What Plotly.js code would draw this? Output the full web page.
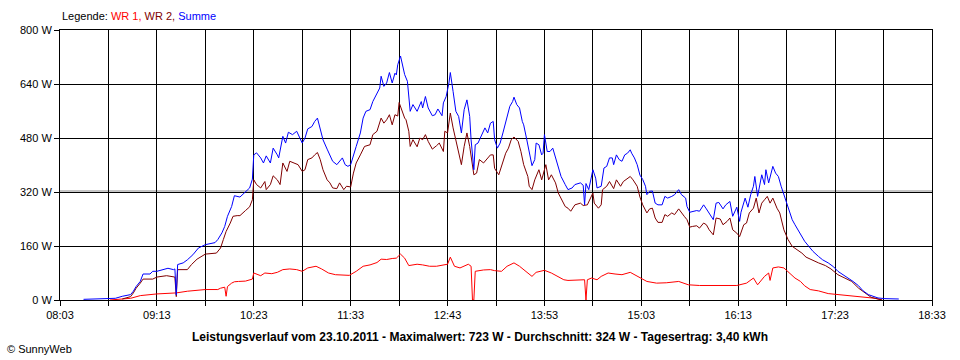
<!DOCTYPE html>
<html><head><meta charset="utf-8">
<script src="https://cdn.plot.ly/plotly-3.0.1.min.js"></script>
<style>html,body{margin:0;padding:0;background:#fff}#chart{width:960px;height:360px}</style>
</head><body><div id="chart"></div>
<script>
// ---- data ----
const xTickLabels = ["08:03","09:13","10:23","11:33","12:43","13:53","15:03","16:13","17:23","18:33"];
const yTickValues = [0,160,320,480,640,800];

const wr1Time = ["08:39","08:54","09:01","09:13","09:27","09:35","09:48","09:57","09:59","10:02","10:03","10:04","10:07","10:09","10:12","10:17","10:22","10:23","10:28","10:31","10:36","10:40","10:44","10:49","10:54","10:58","11:02","11:08","11:12","11:17","11:22","11:26","11:32","11:37","11:42","11:47","11:52","11:55","11:59","12:03","12:06","12:09","12:12","12:15","12:21","12:25","12:30","12:35","12:40","12:43","12:45","12:48","12:52","12:56","12:58","13:00","13:01","13:02","13:03","13:09","13:14","13:17","13:22","13:26","13:31","13:35","13:40","13:44","13:47","13:53","13:58","14:03","14:07","14:10","14:17","14:22","14:23","14:24","14:27","14:31","14:34","14:39","14:44","14:49","14:55","14:58","15:02","15:07","15:14","15:21","15:30","15:37","15:45","15:53","16:00","16:07","16:12","16:19","16:24","16:27","16:29","16:32","16:35","16:36","16:38","16:42","16:46","16:50","16:54","16:58","17:01","17:05","17:11","17:18","17:25","17:35","17:44","17:52","17:57"];
const wr1Vals = [0,5,13,18,21,26,31,31,35,38,11,40,50,54,55,56,62,80,72,80,78,82,90,92,90,85,95,100,92,80,75,75,73,85,100,104,111,121,120,123,124,136,124,102,106,104,100,100,104,106,127,100,95,104,106,100,0,0,85,89,90,87,85,100,110,100,82,70,82,88,80,70,60,58,60,60,0,60,65,60,70,80,77,75,82,75,65,55,50,51,55,45,43,43,45,45,43,50,65,45,55,70,80,58,95,98,95,80,65,55,42,31,27,19,16,13,10,5,0];

const wr2Time = ["08:48","08:54","08:56","08:58","09:01","09:03","09:10","09:13","09:20","09:26","09:27","09:28","09:35","09:38","09:42","09:48","09:56","09:59","10:01","10:03","10:06","10:08","10:11","10:13","10:17","10:20","10:22","10:23","10:25","10:28","10:31","10:32","10:35","10:37","10:40","10:42","10:44","10:47","10:49","10:52","10:55","10:58","11:00","11:02","11:05","11:07","11:09","11:11","11:13","11:16","11:18","11:20","11:23","11:25","11:28","11:30","11:33","11:35","11:37","11:40","11:43","11:47","11:49","11:52","11:55","11:57","11:59","12:01","12:03","12:05","12:07","12:08","12:10","12:12","12:13","12:15","12:16","12:18","12:21","12:23","12:25","12:27","12:29","12:32","12:35","12:37","12:40","12:41","12:43","12:45","12:47","12:49","12:51","12:53","12:55","12:57","12:59","13:00","13:02","13:04","13:06","13:09","13:11","13:14","13:16","13:17","13:20","13:22","13:25","13:27","13:29","13:31","13:34","13:36","13:38","13:41","13:42","13:44","13:46","13:49","13:51","13:54","13:56","13:58","14:01","14:03","14:05","14:08","14:10","14:12","14:15","14:19","14:21","14:24","14:28","14:29","14:32","14:34","14:35","14:38","14:40","14:43","14:45","14:48","14:50","14:52","14:55","14:57","15:00","15:02","15:04","15:07","15:09","15:11","15:13","15:15","15:18","15:20","15:22","15:25","15:27","15:30","15:32","15:34","15:36","15:38","15:40","15:43","15:45","15:48","15:50","15:52","15:55","15:57","16:00","16:02","16:05","16:07","16:09","16:12","16:14","16:17","16:19","16:21","16:24","16:26","16:28","16:30","16:32","16:34","16:36","16:38","16:41","16:43","16:46","16:49","16:52","16:55","16:59","17:02","17:06","17:11","17:16","17:20","17:25","17:30","17:35","17:40","17:45","17:49","17:54","17:57"];
const wr2Vals = [3,10,21,35,50,62,62,68,72,68,10,90,90,105,121,136,139,154,179,203,228,248,250,250,265,276,297,356,342,332,351,327,342,368,356,342,406,381,411,406,401,381,386,416,421,430,437,416,386,356,347,332,330,347,327,337,335,376,406,430,455,460,490,500,539,524,534,549,519,549,545,585,559,539,534,500,455,475,454,480,475,490,470,447,457,465,440,500,495,554,510,475,435,401,455,495,455,425,371,376,416,406,416,430,430,390,371,396,435,450,475,483,470,440,401,366,337,327,356,386,356,401,356,371,347,317,302,277,272,263,282,287,280,282,317,287,272,282,327,337,351,330,356,337,351,356,366,356,337,305,282,258,270,272,243,230,230,253,248,258,253,270,258,248,238,216,218,220,213,228,223,208,193,243,240,223,233,243,208,198,188,223,228,258,272,302,258,287,297,307,287,302,272,258,208,179,159,151,139,127,119,110,102,92,75,65,55,35,19,8,3,0];

const sumTime = ["08:20","08:32","08:43","08:48","08:54","08:56","08:58","09:01","09:03","09:08","09:10","09:13","09:17","09:21","09:25","09:26","09:27","09:28","09:32","09:35","09:39","09:43","09:48","09:51","09:55","09:57","10:00","10:02","10:04","10:07","10:09","10:13","10:17","10:20","10:22","10:23","10:25","10:28","10:30","10:32","10:35","10:37","10:40","10:41","10:44","10:46","10:48","10:51","10:54","10:56","10:58","11:00","11:02","11:05","11:07","11:09","11:11","11:13","11:16","11:18","11:20","11:23","11:25","11:27","11:29","11:31","11:33","11:35","11:37","11:40","11:42","11:44","11:47","11:49","11:52","11:54","11:55","11:57","11:59","12:01","12:03","12:05","12:06","12:07","12:09","12:11","12:12","12:14","12:15","12:16","12:18","12:21","12:24","12:25","12:27","12:29","12:32","12:34","12:36","12:39","12:40","12:42","12:44","12:45","12:47","12:49","12:51","12:53","12:55","12:57","12:59","13:00","13:02","13:03","13:05","13:08","13:10","13:12","13:14","13:16","13:17","13:19","13:21","13:23","13:26","13:28","13:30","13:31","13:33","13:35","13:37","13:38","13:40","13:42","13:44","13:46","13:47","13:49","13:51","13:52","13:53","13:55","13:57","13:59","14:01","14:03","14:05","14:08","14:10","14:13","14:15","14:19","14:21","14:22","14:23","14:25","14:28","14:30","14:31","14:34","14:36","14:38","14:40","14:42","14:43","14:45","14:47","14:49","14:51","14:53","14:55","14:56","14:58","15:00","15:02","15:04","15:06","15:07","15:09","15:11","15:13","15:15","15:18","15:20","15:22","15:25","15:27","15:30","15:32","15:35","15:36","15:38","15:41","15:43","15:45","15:48","15:50","15:53","15:55","15:57","15:59","16:02","16:04","16:07","16:09","16:12","16:14","16:15","16:18","16:20","16:22","16:24","16:25","16:27","16:28","16:30","16:32","16:33","16:35","16:36","16:38","16:40","16:42","16:44","16:46","16:47","16:49","16:50","16:52","16:54","16:56","16:59","17:01","17:04","17:07","17:11","17:14","17:18","17:22","17:25","17:29","17:32","17:36","17:40","17:43","17:47","17:51","17:54","17:59","18:09"];
const sumVals = [2,4,5,11,16,26,40,55,77,77,85,85,90,94,90,92,15,105,110,119,134,154,164,167,170,179,199,218,248,277,309,305,320,332,358,430,436,421,406,427,406,450,430,421,485,465,497,490,500,480,465,480,507,514,529,539,510,475,447,430,411,401,411,421,401,396,401,425,455,495,539,559,564,588,613,628,663,633,643,674,643,672,667,697,723,692,668,648,588,559,579,559,588,569,603,569,546,549,566,546,584,603,643,674,618,559,544,495,564,593,544,475,386,460,465,490,510,495,524,529,475,450,465,495,544,574,588,601,579,569,529,519,480,440,398,416,465,460,430,435,490,440,440,450,421,391,366,342,327,332,342,347,340,282,345,327,386,361,332,337,391,396,421,421,401,430,416,411,430,435,445,435,421,401,370,357,337,312,322,323,287,282,282,307,302,307,312,327,312,302,277,260,263,265,263,282,270,253,238,287,289,270,282,292,248,275,233,260,302,275,312,337,366,307,332,371,342,386,347,366,396,376,366,337,312,297,272,263,238,223,208,188,174,159,144,129,119,110,98,85,75,65,55,42,28,16,9,6,4,3];

// ---- rendering ----
function toMin(s){ const p = s.split(':'); return Number(p[0])*60 + Number(p[1]); }

const FONT = 'Liberation Sans, Arial, sans-serif';
const tickVals = [], tickText = [];
xTickLabels.forEach((lab, i) => {
  const m = toMin(lab);
  tickVals.push(m); tickText.push(lab);
  if (i < xTickLabels.length - 1) { tickVals.push(m + (toMin(xTickLabels[i+1]) - m) / 2); tickText.push(''); }
});

function mk(times, vals, color){
  return { x: times.map(toMin), y: vals, type: 'scatter', mode: 'lines',
           line: { color: color, width: 1 }, hoverinfo: 'skip' };
}
const data = [
  mk(wr1Time, wr1Vals, '#ff0000'),
  mk(wr2Time, wr2Vals, '#800000'),
  mk(sumTime, sumVals, '#0000ff')
];

const x0 = toMin(xTickLabels[0]), x1 = toMin(xTickLabels[xTickLabels.length-1]);
const layout = {
  width: 960, height: 360,
  margin: { l: 60, r: 28, t: 30, b: 60, pad: 0 },
  paper_bgcolor: '#ffffff', plot_bgcolor: '#ffffff',
  showlegend: false,
  font: { family: FONT, size: 11, color: '#000' },
  xaxis: {
    range: [x0, x1], tickmode: 'array', tickvals: tickVals, ticktext: tickText,
    showgrid: true, gridcolor: '#000', gridwidth: 1, zeroline: false,
    ticks: 'outside', ticklen: 5, tickcolor: '#000', tickwidth: 1,
    showline: true, mirror: true, linecolor: '#000', linewidth: 1,
    tickfont: { family: FONT, size: 11, color: '#000' }, fixedrange: true
  },
  yaxis: {
    range: [0, 800], tickmode: 'array', tickvals: yTickValues,
    ticktext: yTickValues.map(v => v + ' W'),
    showgrid: true, gridcolor: '#000', gridwidth: 1, zeroline: false,
    ticks: 'outside', ticklen: 5, tickcolor: '#000', tickwidth: 1,
    showline: true, mirror: true, linecolor: '#000', linewidth: 1,
    tickfont: { family: FONT, size: 11, color: '#000' }, fixedrange: true
  },
  shapes: [
    { type: 'line', xref: 'paper', x0: 0, x1: 1, yref: 'y', y0: 323, y1: 323,
      line: { color: '#8c8c8c', width: 1 }, layer: 'below' }
  ],
  annotations: [
    { xref: 'paper', yref: 'paper', x: 0, y: (300-16)/270, xanchor: 'left', yanchor: 'middle',
      showarrow: false, font: { family: FONT, size: 11, color: '#000' },
      text: 'Legende: <span style="color:#ff0000">WR 1,</span> <span style="color:#800000">WR 2,</span> <span style="color:#0000ff">Summe</span>' },
    { xref: 'paper', yref: 'paper', x: (480-60)/872, y: (300-336.5)/270, xanchor: 'center', yanchor: 'middle',
      showarrow: false, font: { family: FONT, size: 12, color: '#000' },
      text: '<b>Leistungsverlauf vom 23.10.2011 - Maximalwert: 723 W - Durchschnitt: 324 W - Tagesertrag: 3,40 kWh</b>' },
    { xref: 'paper', yref: 'paper', x: (5-60)/872, y: (300-349)/270, xanchor: 'left', yanchor: 'middle',
      showarrow: false, font: { family: FONT, size: 11, color: '#000' },
      text: '© SunnyWeb' }
  ]
};

Plotly.newPlot('chart', data, layout, { staticPlot: true, displayModeBar: false });
</script>
</body></html>
